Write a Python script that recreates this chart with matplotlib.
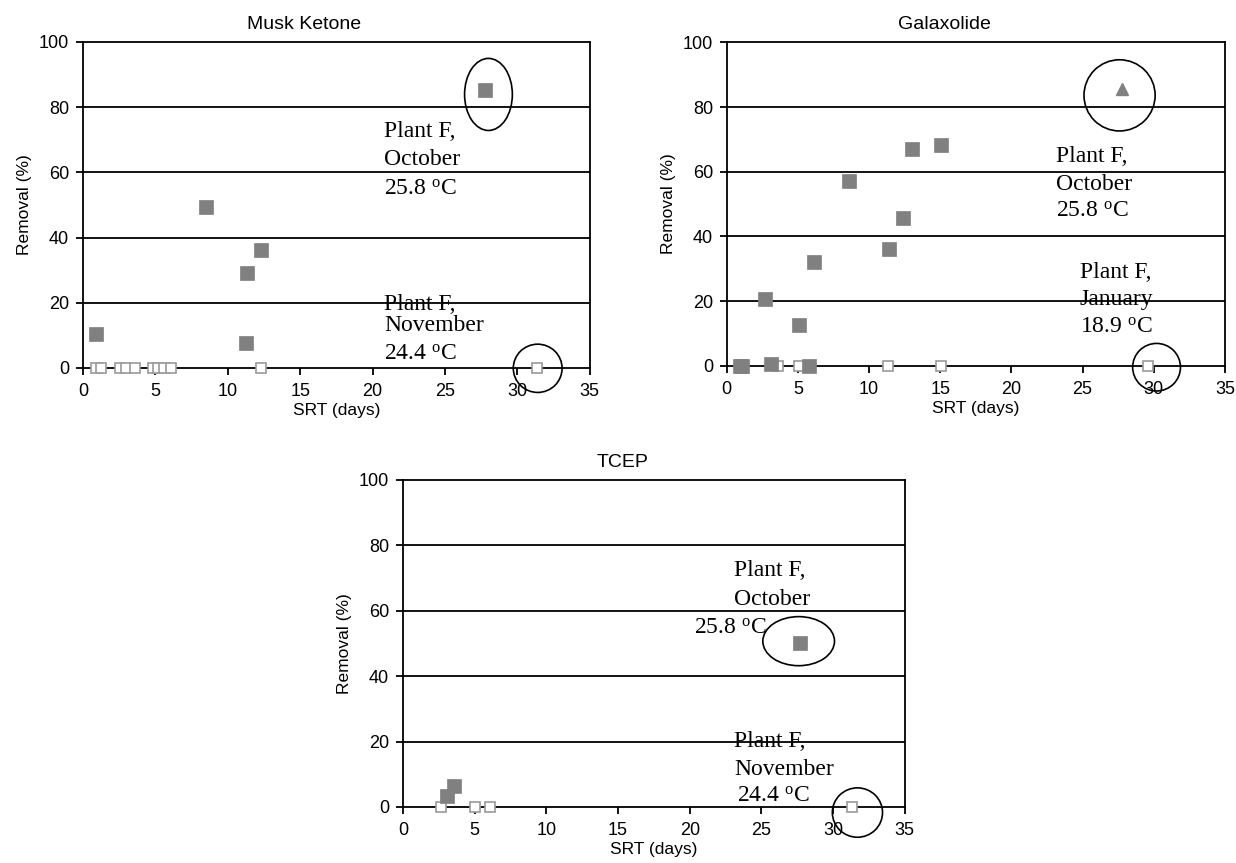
import matplotlib
matplotlib.use("Agg")
import matplotlib.pyplot as plt
from matplotlib.patches import Ellipse

plt.rcParams["font.family"] = ["Liberation Sans", "DejaVu Sans"]
plt.rcParams["font.size"] = 10

# ── Data ───────────────────────────────────────────────────────────────────────

# Musk Ketone
musk_filled_x = [0.86, 8.47, 11.32, 12.31, 11.23, 27.74]
musk_filled_y = [10.3, 49.3, 29.2, 36.1, 7.7, 85.4]
musk_open_x = [0.86, 1.24, 2.57, 3.0, 3.6, 4.8, 5.15, 5.6, 6.1, 12.31, 31.33]
musk_open_y = [0, 0, 0, 0, 0, 0, 0, 0, 0, 0, 0]

# Galaxolide
gal_filled_x = [0.9, 1.1, 2.72, 3.1, 5.09, 5.78, 6.14, 8.59, 11.42, 12.41, 12.99, 15.05]
gal_filled_y = [0, 0, 20.8, 0.7, 12.6, 0, 32.0, 57.2, 36.1, 45.8, 67.0, 68.2]
gal_open_x = [3.63, 5.09, 11.3, 15.05, 29.6]
gal_open_y = [0, 0, 0, 0, 0]
gal_tri_x = [27.8]
gal_tri_y = [85.7]

# TCEP
tcep_filled_x = [3.05, 3.59, 27.7]
tcep_filled_y = [3.4, 6.5, 50.0]
tcep_open_x = [2.68, 5.03, 6.1, 31.3]
tcep_open_y = [0, 0, 0, 0]

x_ticks = [0, 5, 10, 15, 20, 25, 30, 35]
y_ticks = [0, 20, 40, 60, 80, 100]

FILL = "#808080"
OPEN = "#999999"
SERIF = ["Liberation Serif", "DejaVu Serif"]


def setup_axes(ax, title):
    ax.set_xlim(0, 35)
    ax.set_ylim(0, 100)
    ax.set_xticks(x_ticks)
    ax.set_yticks(y_ticks)
    for y in y_ticks[1:-1]:
        ax.axhline(y, color="black", lw=1.3, zorder=1)
    for s in ax.spines.values():
        s.set_linewidth(1.3)
    ax.tick_params(direction="out", length=5, width=1.3, labelsize=13)
    ax.tick_params(axis="x", pad=6)
    ax.tick_params(axis="y", pad=5)
    ax.text(0.437, 1.04, title, transform=ax.transAxes, ha="center",
            va="baseline", fontsize=14)
    ax.set_xlabel("SRT (days)", fontsize=12.5, labelpad=2)
    ax.set_ylabel("Removal (%)", fontsize=12.5, labelpad=5)


def plot_pts(ax, fx, fy, ox, oy):
    ax.plot(ox, oy, "s", ms=7.5, mfc="white", mec=OPEN, mew=1.2,
            ls="none", clip_on=False, zorder=3)
    ax.plot(fx, fy, "s", ms=9.5, mfc=FILL, mec=FILL, mew=0.5,
            ls="none", clip_on=False, zorder=4)


def label(ax, x, y, s):
    ax.text(x, y, s, family=SERIF, fontsize=17, ha="left", va="baseline", zorder=5)


def ring(ax, cx, cy, w, h):
    ax.add_patch(Ellipse((cx, cy), w, h, fill=False, ec="black", lw=1.2,
                         clip_on=False, zorder=6))


plt.rcParams["mathtext.fontset"] = "custom"
plt.rcParams["mathtext.rm"] = "Liberation Serif"
DEG = r"$\mathregular{^{o}}$C"

fig = plt.figure(figsize=(12.36, 8.63), dpi=100)

# ── Musk Ketone ────────────────────────────────────────────────────────────────
ax1 = fig.add_axes([0.0672, 0.5736, 0.410, 0.3778])
setup_axes(ax1, "Musk Ketone")
plot_pts(ax1, musk_filled_x, musk_filled_y, musk_open_x, musk_open_y)
label(ax1, 20.8, 70.7, "Plant F,")
label(ax1, 20.8, 62.3, "October")
label(ax1, 20.8, 53.1, "25.8 " + DEG)
label(ax1, 20.8, 17.9, "Plant F,")
label(ax1, 20.8, 11.3, "November")
label(ax1, 20.8, 2.6, "24.4 " + DEG)
ring(ax1, 28.0, 83.9, 3.3, 22.1)
ring(ax1, 31.4, -0.1, 3.37, 14.8)

# ── Galaxolide ─────────────────────────────────────────────────────────────────
ax2 = fig.add_axes([0.588, 0.576, 0.403, 0.375])
setup_axes(ax2, "Galaxolide")
plot_pts(ax2, gal_filled_x, gal_filled_y, gal_open_x, gal_open_y)
ax2.plot(gal_tri_x, gal_tri_y, "^", ms=8, mfc=FILL, mec=FILL, ls="none", zorder=4)
label(ax2, 23.1, 62.9, "Plant F,")
label(ax2, 23.1, 54.5, "October")
label(ax2, 23.1, 46.0, "25.8 " + DEG)
label(ax2, 24.8, 27.3, "Plant F,")
label(ax2, 24.8, 18.9, "January")
label(ax2, 24.8, 10.2, "18.9 " + DEG)
ring(ax2, 27.6, 83.6, 5.0, 22.0)
ring(ax2, 30.2, -0.4, 3.36, 14.7)

# ── TCEP ───────────────────────────────────────────────────────────────────────
ax3 = fig.add_axes([0.326, 0.0649, 0.406, 0.379])
setup_axes(ax3, "TCEP")
plot_pts(ax3, tcep_filled_x, tcep_filled_y, tcep_open_x, tcep_open_y)
label(ax3, 23.1, 70.6, "Plant F,")
label(ax3, 23.1, 61.9, "October")
label(ax3, 20.3, 52.9, "25.8 " + DEG)
label(ax3, 23.1, 18.3, "Plant F,")
label(ax3, 23.1, 9.7, "November")
label(ax3, 23.3, 1.5, "24.4 " + DEG)
ring(ax3, 27.6, 50.7, 5.0, 15.0)
ring(ax3, 31.7, -1.7, 3.5, 15.1)

fig.savefig("out.png", dpi=100)
plt.close(fig)
